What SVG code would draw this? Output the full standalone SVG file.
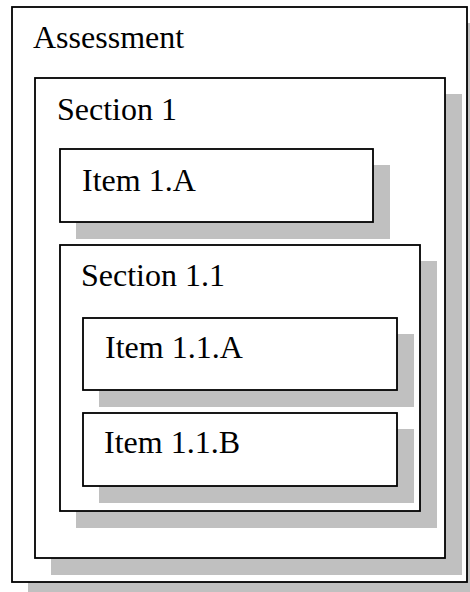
<svg xmlns="http://www.w3.org/2000/svg" width="470" height="592" viewBox="0 0 470 592">
  <style>
    .shadow { fill: #c0c0c0; stroke: none; }
    .box { fill: #ffffff; stroke: #000000; stroke-width: 1.8; }
    .label { font-family: "Liberation Serif", "Times New Roman", serif; font-size: 32px; fill: #000000; }
  </style>
  <rect width="470" height="592" fill="#ffffff"/>

  <!-- Nested containers, each with a flat drop shadow offset down-right -->
  <g id="assessment">
    <rect class="shadow" x="28" y="23" width="455" height="575"/>
    <rect class="box" x="12" y="7" width="455" height="575"/>
    <text class="label" x="33" y="48">Assessment</text>
  </g>

  <g id="section-1">
    <rect class="shadow" x="51" y="94" width="411" height="481"/>
    <rect class="box" x="35" y="78" width="410" height="480"/>
    <text class="label" x="57" y="120">Section 1</text>
  </g>

  <g id="item-1a">
    <rect class="shadow" x="76" y="165" width="314" height="74"/>
    <rect class="box" x="60" y="149" width="313" height="73"/>
    <text class="label" x="82" y="191">Item 1.A</text>
  </g>

  <g id="section-1-1">
    <rect class="shadow" x="76" y="261" width="361" height="267"/>
    <rect class="box" x="60" y="245" width="360" height="266"/>
    <text class="label" x="81" y="286">Section 1.1</text>
  </g>

  <g id="item-1-1a">
    <rect class="shadow" x="99" y="334" width="315" height="73"/>
    <rect class="box" x="83" y="318" width="314" height="72"/>
    <text class="label" x="105" y="358">Item 1.1.A</text>
  </g>

  <g id="item-1-1b">
    <rect class="shadow" x="99" y="429" width="315" height="74"/>
    <rect class="box" x="83" y="413" width="314" height="73"/>
    <text class="label" x="104" y="453">Item 1.1.B</text>
  </g>

  <g id="connectors"></g>
</svg>
